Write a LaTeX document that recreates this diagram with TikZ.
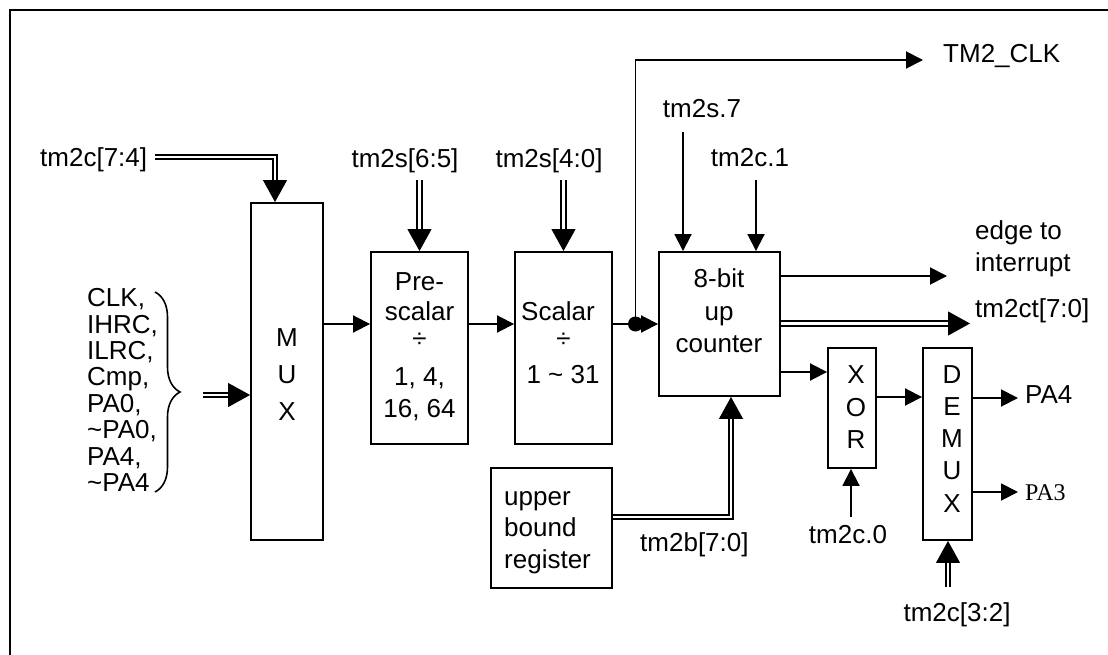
\documentclass[tikz,border=0pt]{standalone}
\usepackage{fontspec}
\setmainfont{Liberation Sans}
\newfontfamily\timesfont{Liberation Serif}
\usetikzlibrary{arrows.meta,decorations.pathreplacing}

\tikzset{
  blk/.style={draw, line width=1.9pt, inner sep=0pt},
  txt/.style={anchor=base, inner sep=0pt},
  sig/.style={line width=1.9pt, -{Triangle[length=17pt,width=17pt]}},
  bus/.style={double, double distance=2.8pt, line width=1.9pt, shorten >=22pt},
  bustip/.style={line width=1pt, -{Triangle[length=22pt,width=24pt]}},
}

\begin{document}
\begin{tikzpicture}[x=1pt, y=-1pt, font=\fontsize{26}{30}\selectfont]
\useasboundingbox (0,0) rectangle (1108,655);

% frame
\draw[line width=2.4pt] (10,655) -- (10,10) -- (1108,10);

% blocks
\node[blk, minimum width=72pt, minimum height=337pt] (mux) at (287,371.5) {};
\node[blk, minimum width=97pt, minimum height=192pt] (pre) at (419.5,348) {};
\node[blk, minimum width=97pt, minimum height=192pt] (scal) at (563.5,348) {};
\node[blk, minimum width=121pt, minimum height=144pt] (cnt) at (719.5,324) {};
\node[blk, minimum width=48pt, minimum height=120pt] (xor) at (852,408) {};
\node[blk, minimum width=49pt, minimum height=192pt] (demux) at (947.5,444) {};
\node[blk, minimum width=121pt, minimum height=120pt] (ubr) at (551.5,528) {};

% block texts
\foreach \t [count=\i from 0] in {M,U,X}
  \node[txt] (mux-\i) at (287,346+37*\i) {\t};
\foreach \t/\y [count=\i] in {Pre-/290, scalar/320, ÷/347, {1, 4,}/385, {16, 64}/417}
  \node[txt] (pre-\i) at (419.5,\y) {\t};
\foreach \t/\x/\y [count=\i] in {Scalar/558/320, ÷/563.5/347, {1 \textasciitilde{} 31}/563/383}
  \node[txt] (scal-\i) at (\x,\y) {\t};
\foreach \t/\y [count=\i] in {8-bit/287, up/320, counter/352}
  \node[txt] (cnt-\i) at (719,\y) {\t};
\foreach \t/\y [count=\i] in {X/383, O/416, R/448}
  \node[txt] (xor-\i) at (856,\y) {\t};
\foreach \t [count=\i from 0] in {D,E,M,U,X}
  \node[txt] (demux-\i) at (952,383+32.3*\i) {\t};
\foreach \t/\y [count=\i] in {upper/505, bound/536.5, register/568}
  \node[txt, anchor=base west] (ubr-\i) at (504,\y) {\t};

% clock sources
\foreach \t [count=\i from 0] in {{CLK,}, {IHRC,}, {ILRC,}, {Cmp,}, {PA0,},
    {\textasciitilde PA0,}, {PA4,}, {\textasciitilde PA4}}
  \node[txt, anchor=base west] (src-\i) at (87,306.7+26.43*\i) {\t};
\draw[line width=1.6pt, decorate, decoration={brace, amplitude=25pt}]
  (155,292) -- (155,492);

% labels
\node[txt, anchor=base west] (lc74) at (40,167) {tm2c[7:4]};
\node[txt] (ls65) at (405,168) {tm2s[6:5]};
\node[txt] (ls40) at (549,168) {tm2s[4:0]};
\node[txt] (ls7) at (702,118) {tm2s.7};
\node[txt] (lc1) at (750,167) {tm2c.1};
\node[txt, anchor=base west] (lclk) at (943,63) {TM2\_CLK};
\node[txt, anchor=base west] (ledge1) at (975,239) {edge to};
\node[txt, anchor=base west] (ledge2) at (975,271) {interrupt};
\node[txt, anchor=base west] (lct) at (975,317) {tm2ct[7:0]};
\node[txt, anchor=base west] (lb) at (640,551.5) {tm2b[7:0]};
\node[txt] (lc0) at (848,543) {tm2c.0};
\node[txt] (lc32) at (957,621) {tm2c[3:2]};
\node[txt, anchor=base west] (lpa4) at (1025,403) {PA4};
\node[txt, anchor=base west, font=\timesfont\fontsize{24}{28}\selectfont] (lpa3) at (1025,500) {PA3};

% free ends
\coordinate (c74in) at (155,157);
\coordinate (srcin) at (203,395);
\coordinate (s65in) at (419.5,180);
\coordinate (s40in) at (563.5,180);
\coordinate (s7in) at (683,132);
\coordinate (c1in) at (756,180);
\coordinate (tap) at (635.5,324);
\coordinate (clkout) at (923,60);
\coordinate (edgeout) at (947,276);
\coordinate (ctout) at (970,323.5);
\coordinate (xorin) at ([yshift=36pt]xor.west);
\coordinate (xorout) at ([yshift=11pt]xor.east);
\coordinate (c0in) at (851,517);
\coordinate (pa4out) at (1018,398);
\coordinate (pa3out) at (1018,492);
\coordinate (c32in) at (948,587);
\coordinate (bturn) at (731,517);

% buses
\draw[bustip] (c74in) -| ([xshift=-12pt]mux.north);
\draw[bus] (c74in) -| ([xshift=-12pt]mux.north);
\draw[bustip] (srcin) -- (mux.west |- srcin);
\draw[bus] (srcin) -- (mux.west |- srcin);
\draw[bustip] (s65in) -- (pre.north);
\draw[bus] (s65in) -- (pre.north);
\draw[bustip] (s40in) -- (scal.north);
\draw[bus] (s40in) -- (scal.north);
\draw[bustip] (cnt.east |- ctout) -- (ctout);
\draw[bus] (cnt.east |- ctout) -- (ctout);
\draw[bustip] (ubr.east |- bturn) -| (cnt.south -| bturn);
\draw[bus] (ubr.east |- bturn) -| (cnt.south -| bturn);
\draw[bustip] (c32in) -- (demux.south -| c32in);
\draw[bus] (c32in) -- (demux.south -| c32in);

% signals
\draw[sig] (mux.east |- cnt.west) -- (pre.west |- cnt.west);
\draw[sig] (pre.east |- cnt.west) -- (scal.west |- cnt.west);
\draw[sig] (scal.east |- cnt.west) -- (cnt.west);
\fill (tap) circle[radius=7.5pt];
\draw[sig] (tap) |- (clkout);
\draw[sig] (s7in) -- (cnt.north -| s7in);
\draw[sig] (c1in) -- (cnt.north -| c1in);
\draw[sig] (cnt.east |- edgeout) -- (edgeout);
\draw[sig] (cnt.east |- xorin) -- (xorin);
\draw[sig] (xorout) -- (demux.west |- xorout);
\draw[sig] (c0in) -- (xor.south -| c0in);
\draw[sig] (demux.east |- pa4out) -- (pa4out);
\draw[sig] (demux.east |- pa3out) -- (pa3out);

\end{tikzpicture}
\end{document}
